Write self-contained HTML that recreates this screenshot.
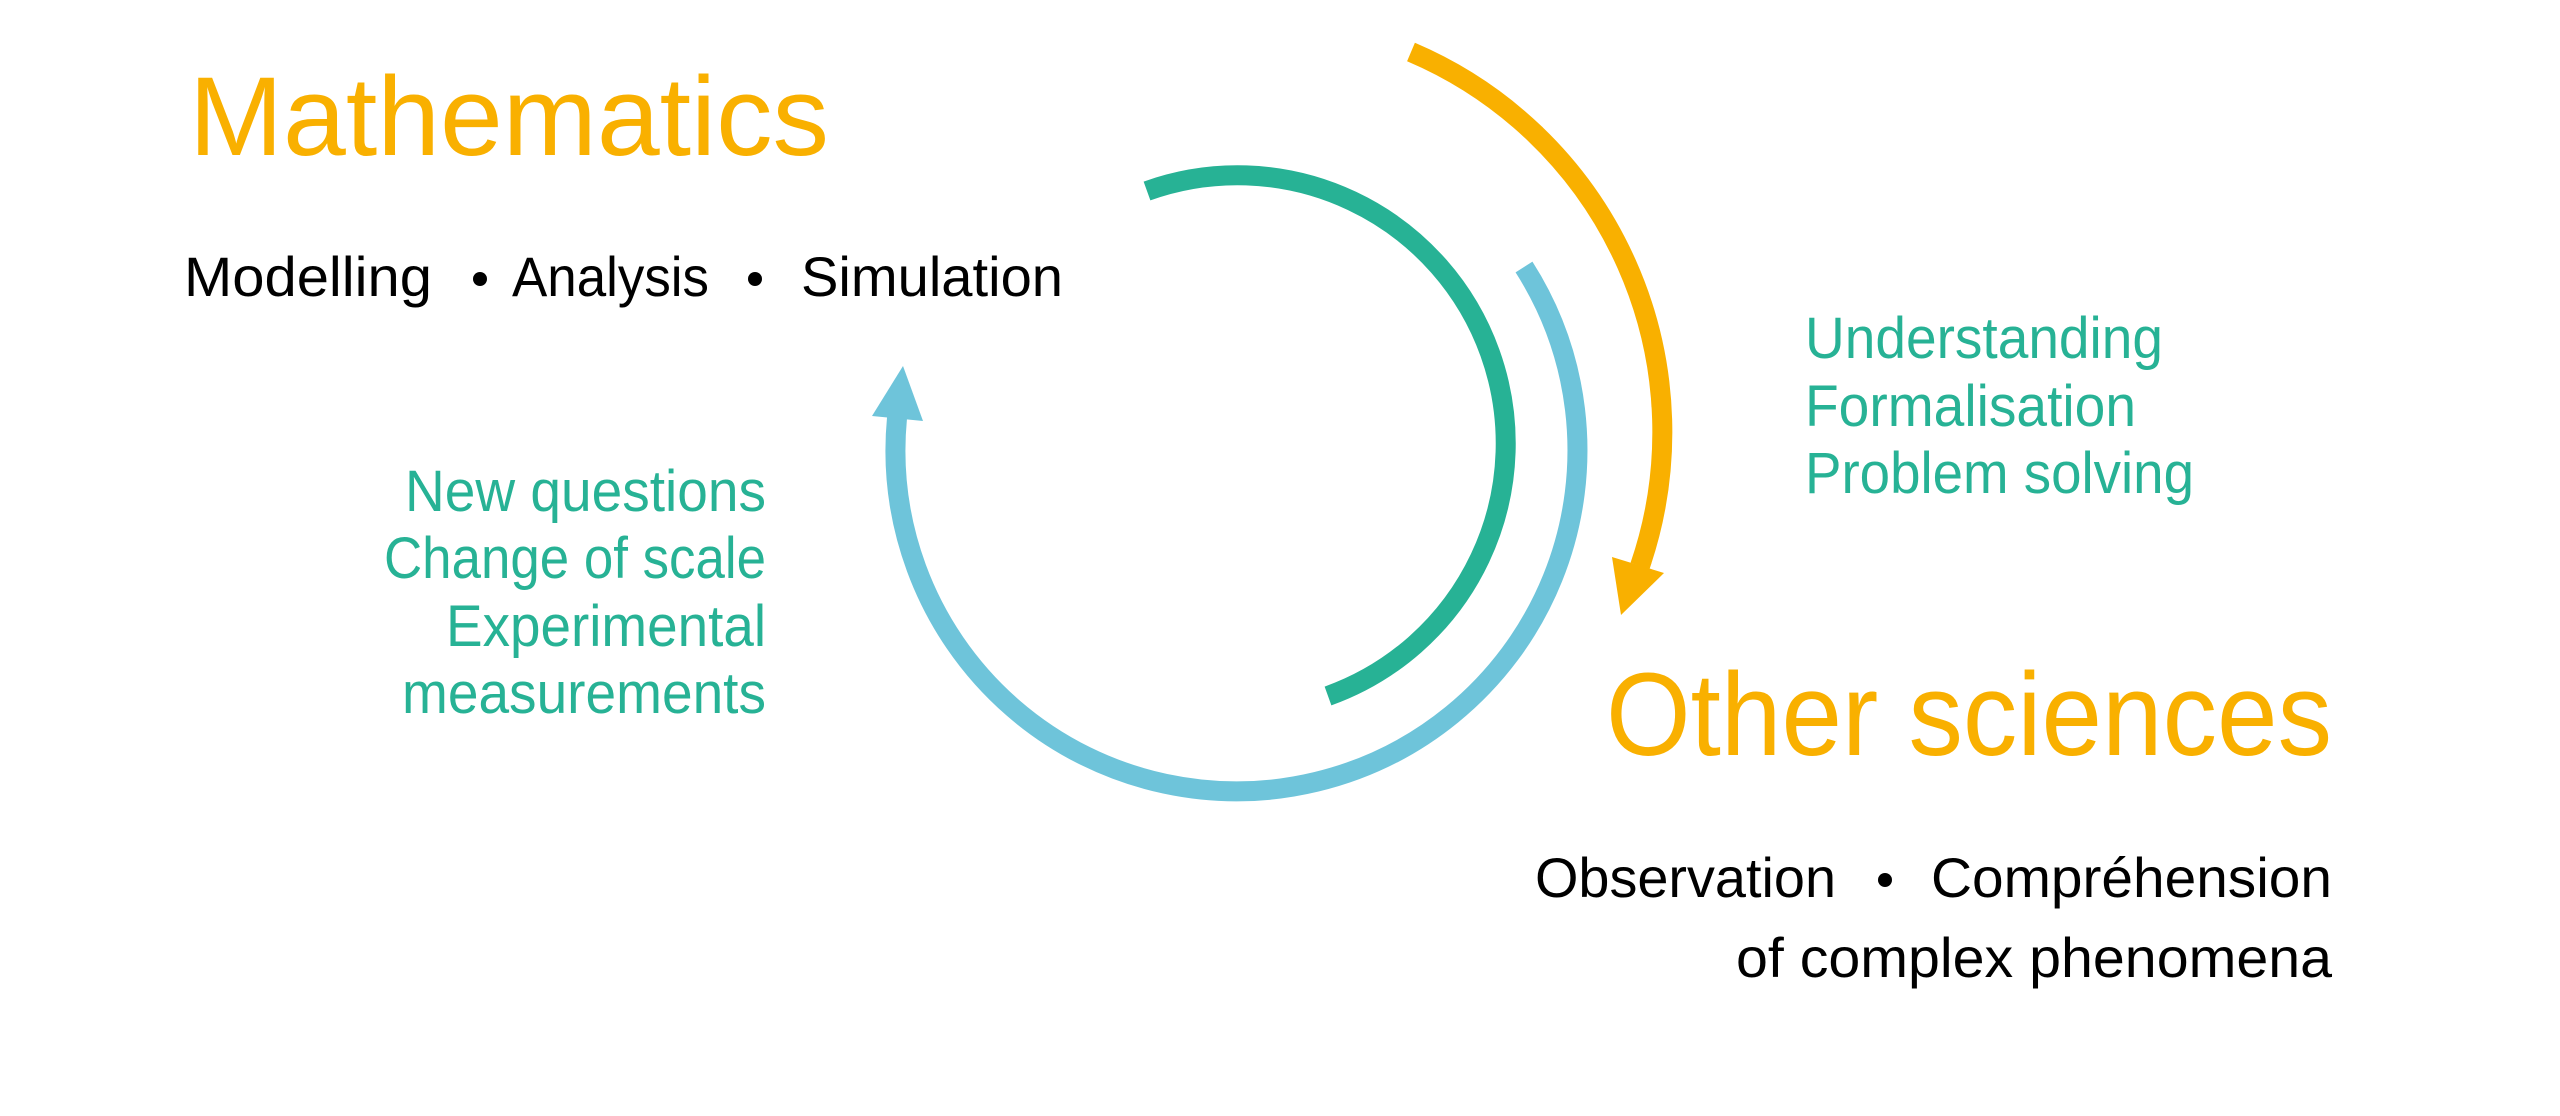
<!DOCTYPE html>
<html><head><meta charset="utf-8"><style>
html,body{margin:0;padding:0;background:#fff;}
svg{display:block;}
text{font-family:"Liberation Sans Narrow","Liberation Sans",sans-serif;}
</style></head><body>
<svg width="2560" height="1116" viewBox="0 0 2560 1116" xmlns="http://www.w3.org/2000/svg">
<rect width="2560" height="1116" fill="#fff"/>
<path d="M1147,191 A268,268 0 0 1 1328,696" fill="none" stroke="#27B295" stroke-width="20"/>
<path d="M1524,267 A341,341 0 1 1 897,418" fill="none" stroke="#6EC4DA" stroke-width="20"/>
<polygon points="903,366 872,416 923,421" fill="#6EC4DA"/>
<path d="M1411,52 A413,413 0 0 1 1640,566" fill="none" stroke="#F9B000" stroke-width="20"/>
<polygon points="1612,557 1664,573 1621,615" fill="#F9B000"/>

<text x="189" y="155" font-size="112" fill="#F9B000" textLength="640" lengthAdjust="spacingAndGlyphs">Mathematics</text>

<g font-size="56" fill="#000">
<text x="184" y="296" textLength="248" lengthAdjust="spacingAndGlyphs">Modelling</text>
<circle cx="480" cy="279" r="7" fill="#000"/>
<text x="512" y="296" textLength="197" lengthAdjust="spacingAndGlyphs">Analysis</text>
<circle cx="755" cy="279" r="7" fill="#000"/>
<text x="801" y="296" textLength="262" lengthAdjust="spacingAndGlyphs">Simulation</text>
</g>

<g font-size="58" fill="#27B295">
<text x="405" y="511" textLength="361" lengthAdjust="spacingAndGlyphs">New questions</text>
<text x="384" y="578" textLength="382" lengthAdjust="spacingAndGlyphs">Change of scale</text>
<text x="446" y="646" textLength="320" lengthAdjust="spacingAndGlyphs">Experimental</text>
<text x="402" y="713" textLength="364" lengthAdjust="spacingAndGlyphs">measurements</text>
</g>

<g font-size="58" fill="#27B295">
<text x="1805" y="358" textLength="358" lengthAdjust="spacingAndGlyphs">Understanding</text>
<text x="1805" y="426" textLength="331" lengthAdjust="spacingAndGlyphs">Formalisation</text>
<text x="1805" y="493" textLength="389" lengthAdjust="spacingAndGlyphs">Problem solving</text>
</g>

<text x="1606" y="755" font-size="118" fill="#F9B000" textLength="726" lengthAdjust="spacingAndGlyphs">Other sciences</text>

<g font-size="56" fill="#000">
<text x="1535" y="897" textLength="301" lengthAdjust="spacingAndGlyphs">Observation</text>
<circle cx="1885" cy="880" r="7" fill="#000"/>
<text x="1931" y="897" textLength="401" lengthAdjust="spacingAndGlyphs">Compréhension</text>
<text x="1736" y="977" textLength="596" lengthAdjust="spacingAndGlyphs">of complex phenomena</text>
</g>
</svg>
</body></html>
